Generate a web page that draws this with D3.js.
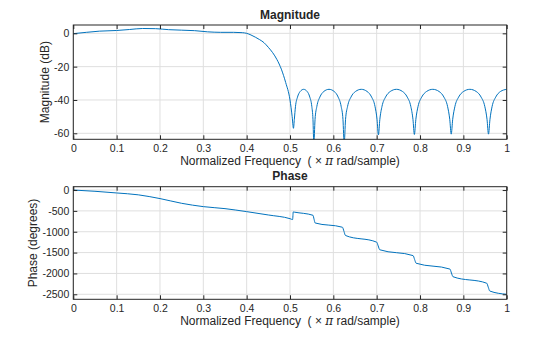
<!DOCTYPE html>
<html>
<head>
<meta charset="utf-8">
<script src="https://cdn.jsdelivr.net/npm/d3@7"></script>
<style>
  body { margin: 0; background: #fff; }
  svg text { font-family: "Liberation Sans", Arial, sans-serif; fill: #262626; white-space: pre; }
</style>
</head>
<body>
<svg id="chart"></svg>
<script>
const width = 560;
const height = 337;

// magnitude response (dB) vs normalized frequency
const magFreq = [
	0, 0.03, 0.06, 0.1, 0.13, 0.16, 0.19, 0.22, 0.25, 0.28, 0.31, 0.34, 0.37, 0.39,
	0.40, 0.41, 0.42, 0.43, 0.44, 0.45, 0.46, 0.47, 0.48, 0.49, 0.5, 0.505,
	0.508, 0.510, 0.5127, 0.5174, 0.5235, 0.5315, 0.5395, 0.5456, 0.5503, 0.553,
	0.555, 0.5578, 0.562, 0.569, 0.578, 0.59, 0.602, 0.611, 0.618, 0.6222,
	0.625, 0.6282, 0.6329, 0.6408, 0.6511, 0.6645, 0.6779, 0.6882, 0.6961, 0.7008,
	0.704, 0.7073, 0.7123, 0.7206, 0.7314, 0.7455, 0.7596, 0.7704, 0.7787, 0.7837,
	0.787, 0.7904, 0.7955, 0.804, 0.8151, 0.8295, 0.8439, 0.855, 0.8635, 0.8686,
	0.872, 0.8754, 0.8806, 0.8892, 0.9004, 0.915, 0.9296, 0.9408, 0.9494, 0.9546,
	0.958, 0.9614, 0.9664, 0.9748, 0.9857, 1.0
];
const magDb = [
	-0.2, 0.6, 1.3, 1.7, 2.3, 2.9, 2.8, 2.2, 1.9, 1.6, 0.9, 0.6, 0.6, 0.4,
	0, -1, -2.3, -3.8, -5.6, -8.4, -11.6, -15.8, -21.5, -29.5, -40, -50,
	-57, -51.6, -43.8, -38.2, -34.9, -33.6, -34.9, -38.2, -43.8, -51.6,
	-66, -51.6, -43.8, -38.2, -34.9, -33.6, -34.9, -38.2, -43.8, -51.6,
	-66, -51.6, -43.8, -38.2, -34.9, -33.6, -34.9, -38.2, -43.8, -51.6,
	-61, -51.6, -43.8, -38.2, -34.9, -33.6, -34.9, -38.2, -43.8, -51.6,
	-60.7, -51.6, -43.8, -38.2, -34.9, -33.6, -34.9, -38.2, -43.8, -51.6,
	-60.5, -51.6, -43.8, -38.2, -34.9, -33.6, -34.9, -38.2, -43.8, -51.6,
	-60.5, -51.6, -43.8, -38.2, -34.9, -33.6
];

// unwrapped phase (degrees)
const phaseFreq = [
	0, 0.05, 0.1, 0.15, 0.2, 0.25, 0.3, 0.35, 0.4, 0.45, 0.5, 0.506, 0.5075, 0.510,
	0.553, 0.5555, 0.558, 0.621, 0.6245, 0.628, 0.700, 0.7035, 0.707, 0.784, 0.7875, 0.791,
	0.869, 0.8725, 0.876, 0.954, 0.9575, 0.961, 1.0
];
const phaseDeg = [
	0, -30, -70, -115, -205, -318, -398, -446, -518, -598, -687, -708, -525, -530,
	-605, -700, -790, -892, -990, -1090, -1250, -1340, -1432, -1572, -1665, -1755,
	-1895, -1990, -2078, -2235, -2330, -2422, -2500
];

const magTicks = [0, -20, -40, -60];
const phaseTicks = [0, -500, -1000, -1500, -2000, -2500];
const freqTicks = [0, 0.1, 0.2, 0.3, 0.4, 0.5, 0.6, 0.7, 0.8, 0.9, 1];

const svg = d3.select('#chart')
	.attr('width', width)
	.attr('height', height);

const left = 73.3;
const right = 506.7;

const x = d3.scaleLinear().domain([0, 1]).range([left, right]);

function drawPanel(cfg) {
	const y = d3.scaleLinear().domain(cfg.yDomain).range([cfg.bottom, cfg.top]);
	const g = svg.append('g');

	// grid
	g.append('g')
		.selectAll('line')
		.data(freqTicks)
		.enter()
			.append('line')
			.attr('x1', d => x(d)).attr('x2', d => x(d))
			.attr('y1', cfg.top).attr('y2', cfg.bottom)
			.attr('stroke', '#dfdfdf');
	g.append('g')
		.selectAll('line')
		.data(cfg.yTicks)
		.enter()
			.append('line')
			.attr('x1', left).attr('x2', right)
			.attr('y1', d => y(d)).attr('y2', d => y(d))
			.attr('stroke', '#dfdfdf');

	// curve
	g.append('clipPath')
		.attr('id', cfg.id + '-clip')
		.append('rect')
		.attr('x', left).attr('y', cfg.top)
		.attr('width', right - left).attr('height', cfg.bottom - cfg.top);

	const line = d3.line()
		.x(d => x(d[0]))
		.y(d => y(d[1]))
		.curve(d3.curveMonotoneX);

	g.append('path')
		.datum(d3.zip(cfg.xs, cfg.ys))
		.attr('clip-path', 'url(#' + cfg.id + '-clip)')
		.attr('fill', 'none')
		.attr('stroke', '#0072bd')
		.attr('stroke-width', 1)
		.attr('d', line);

	// axes on all four sides, ticks pointing in
	const tl = 4;
	g.append('g')
		.attr('transform', 'translate(0,' + cfg.bottom + ')')
		.call(d3.axisBottom(x).tickValues(freqTicks).tickSizeInner(-tl).tickSizeOuter(0).tickPadding(5)
			.tickFormat(d => d === 0 || d === 1 ? String(d) : d.toFixed(1)));
	g.append('g')
		.attr('transform', 'translate(0,' + cfg.top + ')')
		.call(d3.axisTop(x).tickValues(freqTicks).tickSizeInner(-tl).tickSizeOuter(0).tickFormat(''));
	g.append('g')
		.attr('transform', 'translate(' + left + ',0)')
		.call(d3.axisLeft(y).tickValues(cfg.yTicks).tickSizeInner(-tl).tickSizeOuter(0).tickPadding(4)
			.tickFormat(d => String(d)));
	g.append('g')
		.attr('transform', 'translate(' + right + ',0)')
		.call(d3.axisRight(y).tickValues(cfg.yTicks).tickSizeInner(-tl).tickSizeOuter(0).tickFormat(''));

	g.selectAll('.domain').remove();
	g.selectAll('.tick line').attr('stroke', '#262626');
	g.selectAll('.tick text')
		.attr('font-size', 10.5)
		.attr('font-family', '"Liberation Sans", Arial, sans-serif')
		.attr('fill', '#262626');

	g.append('rect')
		.attr('x', left).attr('y', cfg.top)
		.attr('width', right - left).attr('height', cfg.bottom - cfg.top)
		.attr('fill', 'none')
		.attr('stroke', '#262626')
		.attr('stroke-width', 1);

	// title
	g.append('text')
		.attr('x', (left + right) / 2)
		.attr('y', cfg.top - 6.5)
		.attr('text-anchor', 'middle')
		.attr('font-size', 12)
		.attr('font-weight', 'bold')
		.text(cfg.title);

	// x label
	const xl = g.append('text')
		.attr('x', (left + right) / 2)
		.attr('y', cfg.bottom + 26)
		.attr('text-anchor', 'middle')
		.attr('font-size', 12);
	xl.append('tspan').text('Normalized Frequency  ( \u00d7 ');
	xl.append('tspan').attr('font-style', 'italic').attr('font-family', '"DejaVu Serif", serif').text('\u03c0');
	xl.append('tspan').text(' rad/sample)');

	// y label
	g.append('text')
		.attr('transform', 'translate(' + cfg.yLabelX + ',' + (cfg.top + cfg.bottom) / 2 + ') rotate(-90)')
		.attr('text-anchor', 'middle')
		.attr('font-size', 12)
		.text(cfg.yLabel);
}

drawPanel({
	id: 'mag',
	top: 25,
	bottom: 139.3,
	yDomain: [-63.6, 5],
	yTicks: magTicks,
	xs: magFreq,
	ys: magDb,
	title: 'Magnitude',
	yLabel: 'Magnitude (dB)',
	yLabelX: 48.5
});

drawPanel({
	id: 'phase',
	top: 186.7,
	bottom: 299.3,
	yDomain: [-2620, 80],
	yTicks: phaseTicks,
	xs: phaseFreq,
	ys: phaseDeg,
	title: 'Phase',
	yLabel: 'Phase (degrees)',
	yLabelX: 37
});
</script>
</body>
</html>
